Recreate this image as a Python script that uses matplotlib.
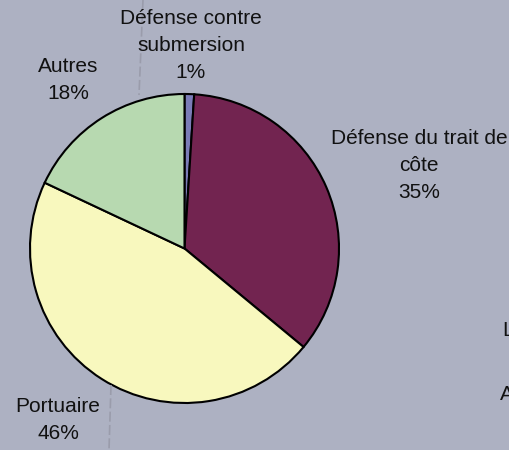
import matplotlib
matplotlib.use('Agg')
import matplotlib.pyplot as plt
from matplotlib.lines import Line2D

labels = ['Défense contre\nsubmersion', 'Défense du trait de\ncôte', 'Portuaire', 'Autres']
values = [1, 35, 46, 18]
colors = ['#7b7cb8', '#722450', '#f8f8be', '#b7d9b0']

# label centres in pixels (x from left, y of first line from top)
label_pos = [(191, 18), (419, 138), (58, 406), (68, 66)]

W, H = 510, 450
bg = '#adb1c2'
plt.rcParams['font.family'] = ['Liberation Sans', 'DejaVu Sans']

fig = plt.figure(figsize=(W / 100, H / 100), dpi=100, facecolor=bg)

# faint scan line behind the pie
fig.add_artist(Line2D([143 / W, 139 / W], [1, 1 - 95 / H], color='#9a9cab',
                      lw=1.2, ls=(0, (6, 2))))
fig.add_artist(Line2D([111 / W, 109 / W], [1 - 385 / H, 0], color='#9a9cab',
                      lw=1.2, ls=(0, (6, 2))))

cx, cy, r = 184.5, 248.5, 154.5
ax = fig.add_axes([(cx - r) / W, (H - cy - r) / H, 2 * r / W, 2 * r / H])
ax.set_facecolor('none')
ax.pie(values, colors=colors, startangle=90, counterclock=False, radius=1,
       wedgeprops=dict(edgecolor='black', linewidth=1.5))
ax.set_xlim(-1, 1)
ax.set_ylim(-1, 1)
ax.axis('off')

total = sum(values)
for lab, v, (px, py) in zip(labels, values, label_pos):
    txt = lab + '\n' + '%d%%' % round(100 * v / total)
    fig.text(px / W, 1 - (py - 9) / H, txt, ha='center', va='top',
             fontsize=15, color='#111111', linespacing=1.55)

# legend entries cut off at the right edge
fig.text(502 / W, 1 - 330 / H, 'L', ha='left', va='center', fontsize=15, color='#111111')
fig.text(500 / W, 1 - 395 / H, 'A', ha='left', va='center', fontsize=15, color='#111111')

fig.savefig('out.png', dpi=100, facecolor=bg)
